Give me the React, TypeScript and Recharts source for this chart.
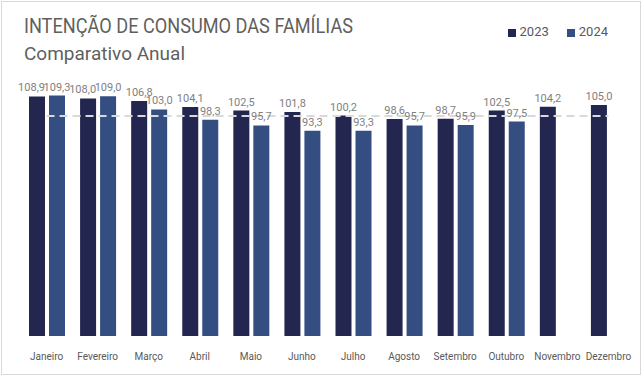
import React from 'react';
import { ComposedChart, Bar, Line, XAxis, YAxis, LabelList, Legend } from 'recharts';

const months = ['Janeiro', 'Fevereiro', 'Março', 'Abril', 'Maio', 'Junho', 'Julho', 'Agosto', 'Setembro', 'Outubro', 'Novembro', 'Dezembro'];
const values2023 = [108.9, 108.0, 106.8, 104.1, 102.5, 101.8, 100.2, 98.6, 98.7, 102.5, 104.2, 105.0];
const values2024 = [109.3, 109.0, 103.0, 98.3, 95.7, 93.3, 93.3, 95.7, 95.9, 97.5, null, null];
const neutralLine = [100, 100, 100, 100, 100, 100, 100, 100, 100, 100, 100, 100];
const edgeTicks = [0, 1, 2, 3, 4, 5, 6, 7, 8, 9, 10, 11, 12];

const data = months.map((m, i) => ({
  name: m,
  y2023: values2023[i],
  y2024: values2024[i],
  meta: neutralLine[i],
}));

const fmt = (v: any) => (v == null ? '' : Number(v).toFixed(1).replace('.', ','));

// rótulo de 2023: quando encosta no de 2024, empurra pra esquerda (igual o Excel fez)
const Label2023 = (props: any) => {
  const { x, y, width, value, index } = props;
  if (value == null) return null;
  const other = values2024[index];
  const clash = other != null && Math.abs(other - value) < 1.5;
  return (
    <text
      x={clash ? x + width : x + width / 2}
      y={y - 5}
      textAnchor={clash ? 'end' : 'middle'}
      fill="#7f7f7f"
      fontSize={11}
      fontFamily="Roboto"
    >
      {fmt(value)}
    </text>
  );
};

export default function App() {
  return (
    <div style={{ position: 'fixed', left: 0, top: 0, width: 644, height: 379, background: '#fff', fontFamily: 'Roboto, sans-serif' }}>
      <div style={{ position: 'absolute', left: 1, top: 1, width: 640, height: 374, border: '1px solid #d9d9d9', boxSizing: 'border-box' }} />
      <svg width={644} height={70} style={{ position: 'absolute', left: 0, top: 0 }}>
        <text x={24} y={33} fontSize={20} fill="#5f5f5f" textLength={329} lengthAdjust="spacingAndGlyphs" fontFamily="Roboto">
          INTENÇÃO DE CONSUMO DAS FAMÍLIAS
        </text>
        <text x={24} y={60} fontSize={19} fill="#5f5f5f" fontFamily="Roboto">
          Comparativo Anual
        </text>
      </svg>
      <ComposedChart width={644} height={379} data={data} margin={{ top: 57, right: 10, bottom: 13, left: 21 }} barGap={4} barSize={16}>
        <XAxis xAxisId="edges" type="number" domain={[0, 12]} ticks={edgeTicks} stroke="#d9d9d9" tick={false} tickSize={6} height={0} />
        <XAxis xAxisId="cat" dataKey="name" axisLine={false} tickLine={false} tick={{ fill: '#595959', fontSize: 10 }} tickSize={0} tickMargin={17} height={30} interval={0} />
        <YAxis hide domain={[0, 120]} />
        <Legend
          verticalAlign="top"
          align="right"
          iconType="square"
          iconSize={8}
          wrapperStyle={{ top: 24, right: 18, width: 'auto', fontSize: 13 }}
          formatter={(value: any) => <span style={{ color: '#595959', marginRight: 8 }}>{value}</span>}
          payload={[
            { value: '2023', type: 'square', color: '#23264f' },
            { value: '2024', type: 'square', color: '#354e82' },
          ] as any}
        />
        <Bar xAxisId="cat" dataKey="y2023" name="2023" fill="#23264f" isAnimationActive={false}>
          <LabelList dataKey="y2023" content={<Label2023 />} />
        </Bar>
        <Bar xAxisId="cat" dataKey="y2024" name="2024" fill="#354e82" isAnimationActive={false}>
          <LabelList dataKey="y2024" position="top" offset={5} formatter={fmt} fill="#7f7f7f" fontSize={11} />
        </Bar>
        <Line xAxisId="cat" dataKey="meta" stroke="#d9d9d9" strokeWidth={2} strokeDasharray="8 5" dot={false} activeDot={false} legendType="none" isAnimationActive={false} />
      </ComposedChart>
    </div>
  );
}
